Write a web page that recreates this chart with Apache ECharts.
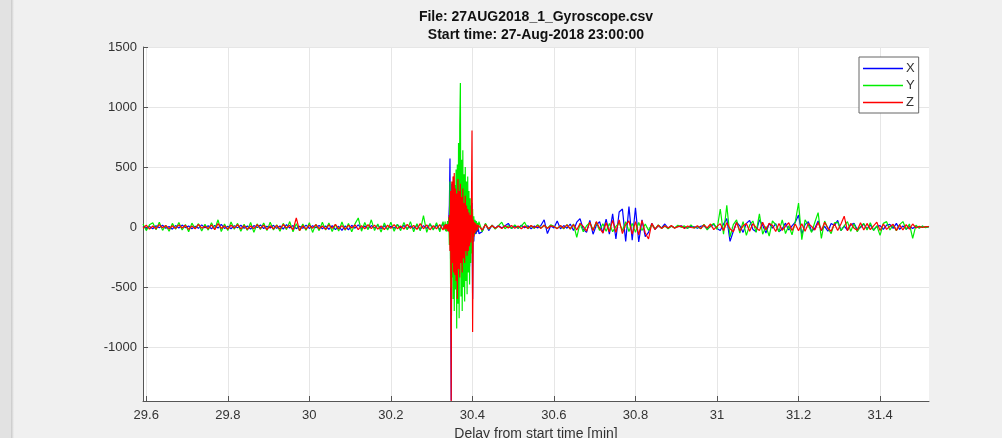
<!DOCTYPE html>
<html>
<head>
<meta charset="utf-8">
<title>Gyroscope</title>
<script src="https://cdn.jsdelivr.net/npm/echarts@6/dist/echarts.min.js"></script>
<style>
  html, body { margin: 0; padding: 0; background: #f0f0f0; }
  #chart { width: 1002px; height: 438px; }
</style>
</head>
<body>
<div id="chart"></div>
<script>
  // 坐标轴刻度
  const xTicks = [29.6, 29.8, 30, 30.2, 30.4, 30.6, 30.8, 31, 31.2, 31.4]
  const yTicks = [-1000, -500, 0, 500, 1000, 1500]
  const seriesNames = ['X', 'Y', 'Z']

  // 第一段：冲击之前 (起始时间, 采样间隔 min)
  const seg1Start = 29.592
  const seg1Step = 0.008
  const seg1X = [
    8, -12, 5, -15, 10, -6, 14, -10, 4, -18,
    12, -8, 16, -5, 9, -14, 6, -11, 18, -7,
    10, -16, 13, -9, 22, -12, 7, -15, 11, -6,
    15, -10, 8, -18, 12, -5, 17, -13, 6, -9,
    14, -11, 9, -17, 20, -8, 12, -14, 7, -10,
    16, -12, 10, -7, 13, -15, 8, -19, 11, -22,
    6, -28, 9, -24, 14, -10, 18, -12, 8, -16,
    12, -9, 15, -13, 10, -17, 7, -11, 19, -8,
    13, -15, 9, -12, 16, -20, 11, -14, 24, -18,
    15, -22, 30
  ]
  const seg1Y = [
    25, -30, 18, 35, -22, 40, -28, 15, -35, 30,
    -18, 38, -25, 20, -40, 32, -15, 28, -33, 22,
    -26, 35, -20, 60, -38, 25, -30, 42, -18, 30,
    -35, 22, -28, 38, -45, 26, -20, 33, -30, 40,
    -25, 18, -36, 30, -22, 45, -40, 28, -32, 24,
    -28, 36, -45, 22, -30, 40, -26, 34, -38, 20,
    -34, 42, -28, 30, -40, 26, 75, -35, 38, -22,
    60, -30, 25, -42, 34, -26, 40, -36, 22, -30,
    38, -24, 45, -40, 28, -32, 95, -45, 30, -25,
    35, -40, 45
  ]
  const seg1Z = [
    -10, 15, -18, 8, -14, 20, -6, 12, -16, 10,
    -12, 18, -8, 14, -20, 9, -15, 22, -10, 6,
    -14, 17, -22, 28, -12, 10, -18, 15, -9, 20,
    -16, 12, -20, 8, -13, 19, -11, 16, -21, 10,
    -15, 13, -18, 21, -9, 14, -24, 75, -30, 12,
    -17, 15, -10, 20, -14, 9, -19, 18, -12, 22,
    -16, 11, -20, 14, -9, 17, -22, 12, -15, 20,
    -13, 16, -18, 10, -21, 15, -11, 19, -14, 8,
    -17, 22, -12, 14, -20, 28, -15, 18, -23, 12,
    -16, 20, -25
  ]

  // 第二段：冲击 (采样更密)
  const seg2Start = 30.330
  const seg2Step = 0.0015
  const seg2X = [
    5, -12, 20, -25, 15, -30, 35, -20, 60, 180,
    570, -300, -1445, 360, -250, 200, -320, 150, -180, 240,
    -150, 120, -260, 180, -90, 140, -200, 90, -120, 160,
    -80, 110, -170, 70, -90, 130, -60, 80, -140, 60,
    -110, 90, -330, 50, -150, 120, 200, -600, 80, -120,
    40, -60, 50, -55, 30, -40, 20
  ]
  const seg2Y = [
    30, -20, 45, -35, 25, -40, 50, -30, 80, -150,
    380, -505, 250, -420, 300, -600, 420, -700, 350, -520,
    480, -845, 520, -640, 700, -760, 850, 1200, -580, 560,
    -700, 640, -500, 440, -620, 500, -450, 380, -560, 420,
    -380, 300, -480, 240, -300, 180, -220, 150, -120, 90,
    -70, 60, -45, 50, -30, 35, -20
  ]
  const seg2Z = [
    -10, 15, -20, 25, -15, 20, -30, 25, -40, 100,
    -200, 300, -1450, 380, -300, 420, -380, 450, -400, 320,
    -450, 280, -600, 400, -350, 300, -420, 360, -300, 250,
    -380, 320, -260, 200, -300, 260, -200, 180, -240, 150,
    -200, 120, -160, 100, -130, 90, 805, -875, 60, -80,
    40, -50, 30, -35, 20, -25, 15
  ]

  // 第三段：冲击之后
  const seg3Start = 30.416
  const seg3Step = 0.008
  const seg3X = [
    -55, -40, 25, -30, 15, -10, 12, -8, 10, 30,
    -12, 8, -10, 14, -6, 10, -14, 8, -9, 12,
    60, -55, 10, -8, 50, -15, 12, -10, 25, -30,
    40, 70, -20, -45, 55, -60, 15, 45, -50, 65,
    -60, 110, -100, 125, 150, -120, 170, -110, 160, -125,
    60, -80, -45, 30, -20, 12, -8, 25, -10, 8,
    -6, 4, 10, -3, -8, 5, 2, -10, 6, 12,
    -18, 5, 22, -12, -30, 25, 70, -120, -35, 40,
    10, -45, 30, 55, -20, -40, 60, 15, -50, 30,
    -10, 28, -40, -15, 32, -25, 10, 40, 100, -60,
    20, 45, -35, -10, 50, -30, 5, -35, 30, 12,
    55, -30, 8, -25, 18, 30, -22, -5, 25, -15,
    18, -25, 5, 12, -20, 15, 22, -12, 30, -20,
    10, -18, 4, -12, 8, -6, 5, -4, 3
  ]
  const seg3Y = [
    45, -40, 30, -20, 15, -18, 12, 40, -15, 10,
    -12, 18, -10, 8, 40, -14, 10, -12, 20, -8,
    15, -10, 18, 5, -12, 10, -15, 20, -18, 25,
    -87, 30, -40, 10, 35, -25, 40, -30, 28, -35,
    30, -40, 5, 35, -30, 45, -38, 30, -45, 38,
    -30, 25, -28, 20, -15, 18, -12, 10, -14, 8,
    -8, 14, -3, 9, -12, 18, -10, 4, -15, 22,
    -25, 10, 30, -20, 150, -60, 180, -83, 20, 60,
    -50, 45, -70, 15, 50, -45, 110, -60, 5, -75,
    50, 20, -40, 60, -55, 10, -65, 45, 200, -105,
    60, 15, -45, 40, 120, -95, 50, -10, -55, 35,
    40, -30, 10, 45, -35, 28, -40, 5, 30, -25,
    35, -30, 10, -70, 30, 45, -25, 15, -30, 20,
    45, -20, 25, -95, 15, -10, 8, -6, 5
  ]
  const seg3Z = [
    30, -25, 20, -15, 12, -10, 8, -12, 10, -8,
    12, -10, 8, -14, 9, -11, 13, -7, 10, -12,
    15, -12, 10, 4, -14, 12, -10, 18, -15, 20,
    -25, 30, 5, -35, 40, -30, 45, -10, -50, 35,
    -40, 55, -45, 60, -55, 20, 50, -60, 45, -65,
    55, -50, -100, 30, -20, 15, -12, 10, -8, 12,
    -10, 3, 8, -12, 9, -4, -7, 11, -14, 18,
    -8, 25, -22, 5, 28, -30, 35, -15, -40, 38,
    -32, 10, 30, -35, 28, -5, -30, 40, -25, 32,
    12, -38, 30, -28, 8, 35, -30, 25, -32, 28,
    -35, 30, 5, -25, 38, -30, 40, -10, -35, 28,
    -30, 25, 90, -32, 30, -10, -28, 35, -25, 30,
    -22, 10, 40, -30, 25, -20, 5, 22, -28, 18,
    -25, 20, -18, 25, -8, 5, -4, 3, 2
  ]

  // 把每段的采样值配上时间
  function toPoints(start, step, values) {
    return values.map((v, i) => [+(start + i * step).toFixed(4), v])
  }
  function joinSegs(a, b, c) {
    return toPoints(seg1Start, seg1Step, a)
      .concat(toPoints(seg2Start, seg2Step, b))
      .concat(toPoints(seg3Start, seg3Step, c))
  }
  const allData = [
    joinSegs(seg1X, seg2X, seg3X),
    joinSegs(seg1Y, seg2Y, seg3Y),
    joinSegs(seg1Z, seg2Z, seg3Z)
  ]
  const colors = ['#0000ff', '#00ee00', '#ff0000']

  const axisColor = '#555'
  const textColor = '#333'
  const fontFamily = '"Liberation Sans", Arial, sans-serif'

  const chartInstance = echarts.init(document.getElementById('chart'), null, { renderer: 'canvas' })
  const option = {
    backgroundColor: '#f0f0f0',
    animation: false,
    title: {
      text: 'File: 27AUG2018_1_Gyroscope.csv\nStart time: 27-Aug-2018 23:00:00',
      left: 536,
      top: 8,
      padding: 0,
      textAlign: 'center',
      textStyle: {
        fontFamily: fontFamily,
        fontSize: 14,
        fontWeight: 'bold',
        color: '#111',
        lineHeight: 18
      }
    },
    legend: {
      orient: 'vertical',
      left: 859,
      top: 57,
      padding: [5, 4, 4, 4],
      itemWidth: 40,
      itemHeight: 1.5,
      itemGap: 4,
      icon: 'rect',
      backgroundColor: '#fff',
      borderColor: '#666',
      borderWidth: 1,
      borderRadius: 0,
      textStyle: { fontFamily: fontFamily, fontSize: 13, color: textColor, padding: [0, 0, 0, -2] },
      data: seriesNames.map((name, k) => ({ name: name, itemStyle: { color: colors[k] } }))
    },
    graphic: [
      // 左侧窗口边框
      { type: 'rect', left: 0, top: 0, shape: { width: 11, height: 438 }, style: { fill: '#e2e2e2' }, silent: true },
      { type: 'rect', left: 11, top: 0, shape: { width: 3, height: 438 },
        style: { fill: new echarts.graphic.LinearGradient(0, 0, 1, 0, [
          { offset: 0, color: '#c8c8c8' }, { offset: 1, color: '#f0f0f0' }]) }, silent: true }
    ],
    grid: {
      left: 143,
      right: 73,
      top: 47,
      bottom: 37,
      show: true,
      backgroundColor: '#fff',
      borderWidth: 0,
      outerBoundsMode: 'none'
    },
    xAxis: {
      type: 'value',
      min: 29.592,
      max: 31.52,
      name: 'Delay from start time [min]',
      nameLocation: 'middle',
      nameGap: 25,
      nameTextStyle: { fontFamily: fontFamily, fontSize: 14, color: textColor },
      axisLine: { show: true, onZero: false, lineStyle: { color: axisColor, width: 1 } },
      axisTick: { show: true, inside: true, length: 5, customValues: xTicks, lineStyle: { color: axisColor } },
      axisLabel: { customValues: xTicks, margin: 8, fontFamily: fontFamily, fontSize: 13, color: textColor,
        formatter: v => String(v) },
      splitLine: { show: true, lineStyle: { color: '#e6e6e6', width: 1 } }
    },
    yAxis: {
      type: 'value',
      min: -1450,
      max: 1500,
      axisLine: { show: true, lineStyle: { color: axisColor, width: 1 } },
      axisTick: { show: true, inside: true, length: 5, customValues: yTicks, lineStyle: { color: axisColor } },
      axisLabel: { customValues: yTicks, margin: 6, fontFamily: fontFamily, fontSize: 13, color: textColor,
        formatter: v => String(v) },
      splitLine: { show: true, lineStyle: { color: '#e6e6e6', width: 1 } }
    },
    series: seriesNames.map((name, k) => ({
      name: name,
      type: 'line',
      data: allData[k],
      showSymbol: false,
      symbol: 'none',
      sampling: null,
      clip: true,
      color: colors[k],
      lineStyle: { color: colors[k], width: 1.2 }
    }))
  }
  chartInstance.setOption(option)
</script>
</body>
</html>
